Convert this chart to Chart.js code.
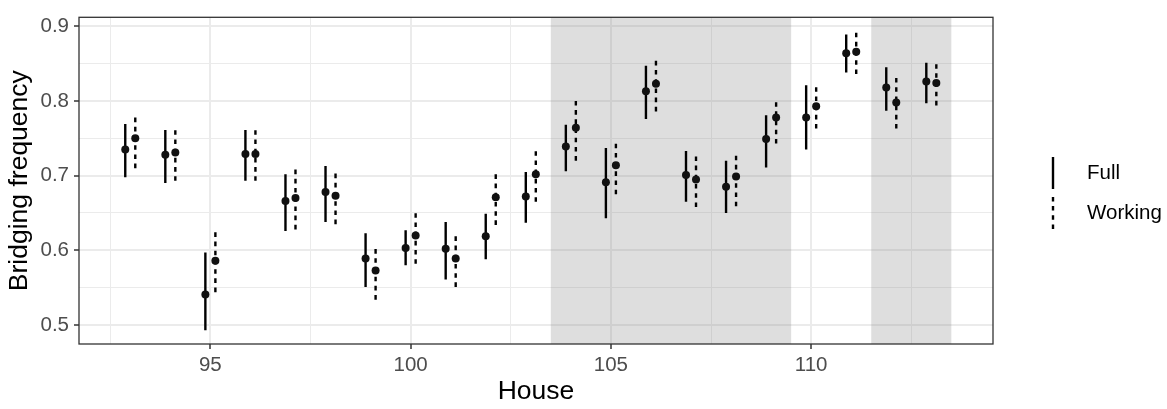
<!DOCTYPE html>
<html>
<head>
<meta charset="utf-8">
<script src="https://cdn.jsdelivr.net/npm/chart.js@4"></script>
<style>
  html, body { margin: 0; padding: 0; background: #fff; }
  #wrap { width: 1167px; height: 409px; }
</style>
</head>
<body>
<div id="wrap"><canvas id="chart"></canvas></div>
<script>
// data
const houses = [93, 94, 95, 96, 97, 98, 99, 100, 101, 102, 103, 104, 105, 106, 107, 108, 109, 110, 111, 112, 113];

const fullMid = [0.735, 0.728, 0.541, 0.729, 0.666, 0.678, 0.589, 0.603, 0.602, 0.619, 0.672, 0.739, 0.691, 0.813, 0.701, 0.685, 0.749, 0.778, 0.864, 0.818, 0.826];
const fullLo  = [0.698, 0.690, 0.493, 0.693, 0.626, 0.638, 0.551, 0.580, 0.561, 0.588, 0.637, 0.706, 0.643, 0.776, 0.665, 0.650, 0.711, 0.735, 0.838, 0.787, 0.797];
const fullHi  = [0.769, 0.761, 0.597, 0.761, 0.702, 0.713, 0.623, 0.627, 0.638, 0.649, 0.705, 0.768, 0.737, 0.847, 0.733, 0.720, 0.781, 0.821, 0.889, 0.845, 0.851];

const workMid = [0.750, 0.731, 0.586, 0.729, 0.670, 0.673, 0.573, 0.620, 0.589, 0.671, 0.702, 0.764, 0.714, 0.823, 0.695, 0.699, 0.778, 0.793, 0.866, 0.798, 0.824];
const workLo  = [0.710, 0.693, 0.544, 0.693, 0.628, 0.635, 0.534, 0.582, 0.551, 0.634, 0.665, 0.720, 0.675, 0.786, 0.658, 0.659, 0.743, 0.763, 0.836, 0.763, 0.794];
const workHi  = [0.781, 0.765, 0.628, 0.764, 0.709, 0.708, 0.607, 0.655, 0.623, 0.705, 0.737, 0.805, 0.748, 0.856, 0.730, 0.731, 0.803, 0.820, 0.892, 0.831, 0.849];

const shadedSpans = [[103.5, 109.5], [111.5, 113.5]];

const xMajor = [95, 100, 105, 110];
const xTicks = [92.5, 95, 97.5, 100, 102.5, 105, 107.5, 110, 112.5];
const yMajor = [0.5, 0.6, 0.7, 0.8, 0.9];
const yTicks = [0.5, 0.55, 0.6, 0.65, 0.7, 0.75, 0.8, 0.85, 0.9];

const dodge = 0.125;

Chart.defaults.font.family = '"Liberation Sans", Arial, sans-serif';

function pointsOf(mid, shift) {
    return houses.map((h, i) => ({ x: h + shift, y: mid[i] }));
}

// lo -> hi for each house, a null to break the line between houses
function rangesOf(lo, hi, shift) {
    return houses.flatMap((h, i) => [
        { x: h + shift, y: lo[i] },
        { x: h + shift, y: hi[i] },
        { x: h + shift, y: null }
    ]);
}

const shadePlugin = {
    id: 'shade',
    beforeDatasetsDraw(chart) {
        const { ctx, chartArea: a, scales: { x } } = chart;
        ctx.save();
        ctx.fillStyle = 'rgba(128,128,128,0.26)';
        shadedSpans.forEach(([s, e]) => {
            const l = x.getPixelForValue(s);
            const r = x.getPixelForValue(e);
            ctx.fillRect(l, a.top, r - l, a.bottom - a.top);
        });
        ctx.restore();
    }
};

const frameAndLegend = {
    id: 'frameAndLegend',
    afterDraw(chart) {
        const { ctx, chartArea: a } = chart;
        ctx.save();
        ctx.strokeStyle = '#333';
        ctx.lineWidth = 1.3;
        ctx.strokeRect(a.left, a.top, a.right - a.left, a.bottom - a.top);

        const keyX = a.right + 60;
        const textX = a.right + 94;
        const items = [
            { label: 'Full', y: 173, dash: [] },
            { label: 'Working', y: 213, dash: [4.6, 4.6] }
        ];
        ctx.font = '20.5px "Liberation Sans", Arial, sans-serif';
        ctx.textBaseline = 'middle';
        ctx.textAlign = 'left';
        items.forEach(it => {
            ctx.strokeStyle = '#000';
            ctx.lineWidth = 2.4;
            ctx.setLineDash(it.dash);
            ctx.beginPath();
            ctx.moveTo(keyX, it.y + 16);
            ctx.lineTo(keyX, it.y - 16);
            ctx.stroke();
            ctx.setLineDash([]);
            ctx.fillStyle = '#000';
            ctx.fillText(it.label, textX, it.y);
        });
        ctx.restore();
    }
};

const ctx = document.getElementById('chart').getContext('2d');
const chart = new Chart(ctx, {
    type: 'scatter',
    data: {
        datasets: [
            { label: 'Full', data: pointsOf(fullMid, -dodge), pointRadius: 4, backgroundColor: '#111', borderWidth: 0 },
            { label: 'Working', data: pointsOf(workMid, dodge), pointRadius: 4, backgroundColor: '#111', borderWidth: 0 },
            {
                label: 'Full range', data: rangesOf(fullLo, fullHi, -dodge),
                showLine: true, spanGaps: false, pointRadius: 0, borderColor: '#000', borderWidth: 2.4, borderCapStyle: 'butt'
            },
            {
                label: 'Working range', data: rangesOf(workLo, workHi, dodge),
                showLine: true, spanGaps: false, pointRadius: 0, borderColor: '#000', borderWidth: 2.4, borderCapStyle: 'butt',
                borderDash: [4.6, 4.6]
            }
        ]
    },
    options: {
        responsive: true,
        maintainAspectRatio: false,
        animation: false,
        devicePixelRatio: 1,
        layout: { padding: { left: 0, top: 5, right: 174, bottom: 0 } },
        plugins: {
            legend: { display: false },
            tooltip: { enabled: false }
        },
        scales: {
            x: {
                type: 'linear',
                min: 91.72,
                max: 114.54,
                afterBuildTicks: s => { s.ticks = xTicks.map(v => ({ value: v })); },
                afterFit: s => { s.height = 65; },
                border: { display: false },
                grid: {
                    color: '#ebebeb',
                    lineWidth: c => xMajor.includes(c.tick.value) ? 2 : 1,
                    tickLength: 5,
                    tickWidth: 1.5,
                    tickColor: c => xMajor.includes(c.tick.value) ? '#333' : 'rgba(0,0,0,0)'
                },
                ticks: {
                    autoSkip: false,
                    maxRotation: 0,
                    padding: 4,
                    color: '#4d4d4d',
                    font: { size: 20.5 },
                    callback: v => xMajor.includes(v) ? String(v) : ''
                },
                title: {
                    display: true,
                    text: 'House',
                    color: '#000',
                    font: { size: 26.5 },
                    padding: { top: 0, bottom: 1 }
                }
            },
            y: {
                min: 0.4746,
                max: 0.912,
                afterBuildTicks: s => { s.ticks = yTicks.map(v => ({ value: v })); },
                afterFit: s => { s.width = 79; },
                border: { display: false },
                grid: {
                    color: '#ebebeb',
                    lineWidth: c => yMajor.includes(c.tick.value) ? 2 : 1,
                    tickLength: 5,
                    tickWidth: 1.5,
                    tickColor: c => yMajor.includes(c.tick.value) ? '#333' : 'rgba(0,0,0,0)'
                },
                ticks: {
                    autoSkip: false,
                    padding: 5,
                    color: '#4d4d4d',
                    font: { size: 20.5 },
                    callback: v => yMajor.includes(v) ? v.toFixed(1) : ''
                },
                title: {
                    display: true,
                    text: 'Bridging frequency',
                    color: '#000',
                    font: { size: 26.5 },
                    padding: { top: 4, bottom: 0 }
                }
            }
        }
    },
    plugins: [shadePlugin, frameAndLegend]
});
</script>
</body>
</html>
